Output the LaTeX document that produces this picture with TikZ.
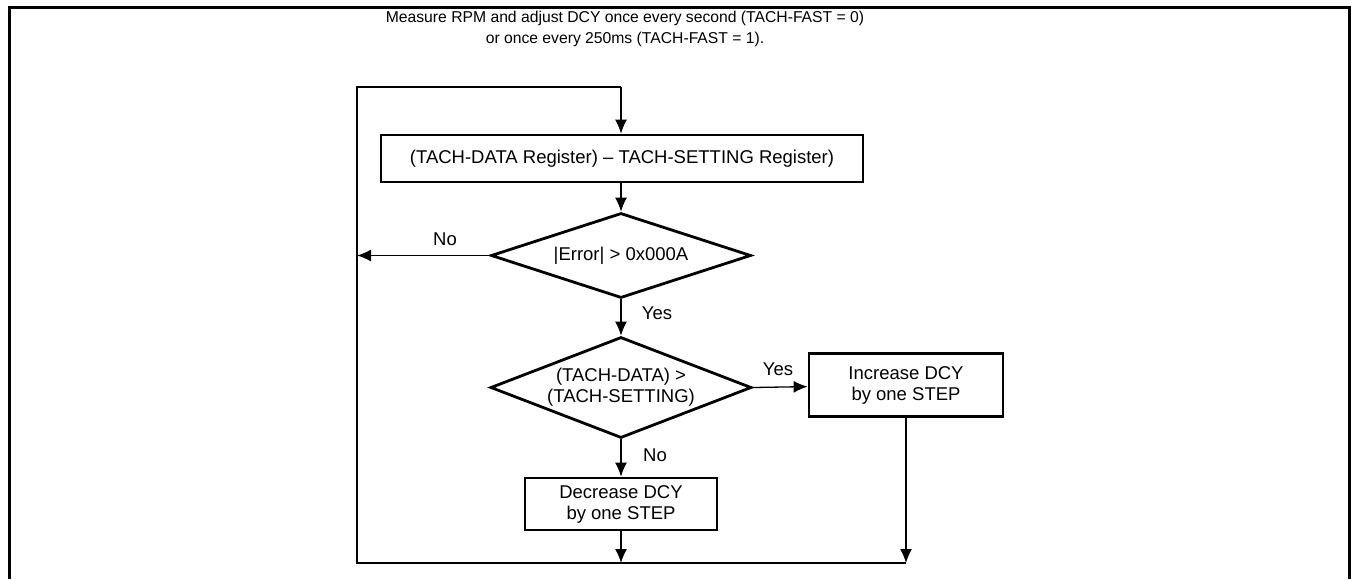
\documentclass[tikz,border=0pt]{standalone}
\usepackage{fontspec}
\setmainfont{Liberation Sans}
\usetikzlibrary{shapes.geometric,arrows.meta}

\tikzset{
  stepbox/.style={draw, line width=2.8pt, align=center, inner sep=0pt},
  testbox/.style={draw, diamond, line width=2.8pt, align=center, inner sep=1pt},
  flow/.style={line width=1.3pt, -{Latex[length=14pt,width=12pt]}},
  wire/.style={line width=1.3pt},
  lbl/.style={inner sep=0pt}
}

\begin{document}
\begin{tikzpicture}[x=1pt, y=-1pt, font=\fontsize{18.5}{21}\selectfont]
                \useasboundingbox (0,0) rectangle (1351,579);
                % frame
                \draw [line width=3pt] (9,579) -- (9,7) -- (1349,7) -- (1349,579);
                % heading
                \node [lbl, align=center, font=\fontsize{15.7}{20.5}\selectfont] (title) at (625,29)
                  {Measure RPM and adjust DCY once every second (TACH-FAST = 0)\\or once every 250ms (TACH-FAST = 1).};
                % steps
                \node [stepbox, minimum width=482pt, minimum height=47pt] (diff) at (622,158.5)
                  {(TACH-DATA Register) -- TACH-SETTING Register)};
                \node [testbox, minimum width=260pt, minimum height=85pt, aspect=3] (err) at (621,255.5)
                  {|Error| > 0x000A};
                \node [testbox, minimum width=261pt, minimum height=101pt, aspect=2.6] (cmp) at (621,387.5)
                  {(TACH-DATA) >\\(TACH-SETTING)};
                \node [stepbox, minimum width=194pt, minimum height=63pt] (inc) at (906,385)
                  {Increase DCY\\by one STEP};
                \node [stepbox, minimum width=192pt, minimum height=52pt] (dec) at (621,504)
                  {Decrease DCY\\by one STEP};
                % loop corners
                \coordinate (loopTL) at (357,87);
                \coordinate (loopBL) at (357,563);
                \coordinate (joinInc) at (inc |- loopBL);
                \coordinate (joinDec) at (dec |- loopBL);
                \coordinate (loopTop) at (err |- loopTL);
                % connectors
                \draw [flow] (loopTop) -- (loopTop |- diff.north);
                \draw [flow] (err |- diff.south) -- (err);
                \draw [flow] (err.west) -- (loopTL |- err);
                \draw [flow] (err) -- (cmp);
                \draw [flow] (cmp.east) -- (inc);
                \draw [flow] (cmp) -- (dec);
                \draw [flow] (dec) -- (joinDec);
                \draw [flow] (inc) -- (joinInc);
                \draw [wire] (joinInc) -- (loopBL) -- (loopTL) -- (loopTop);
                % labels
                \node [lbl] (errNo) at (445,239) {No};
                \node [lbl] (errYes) at (657,313) {Yes};
                \node [lbl] (cmpYes) at (778,369) {Yes};
                \node [lbl] (cmpNo) at (655,455) {No};
            \end{tikzpicture}
\end{document}
